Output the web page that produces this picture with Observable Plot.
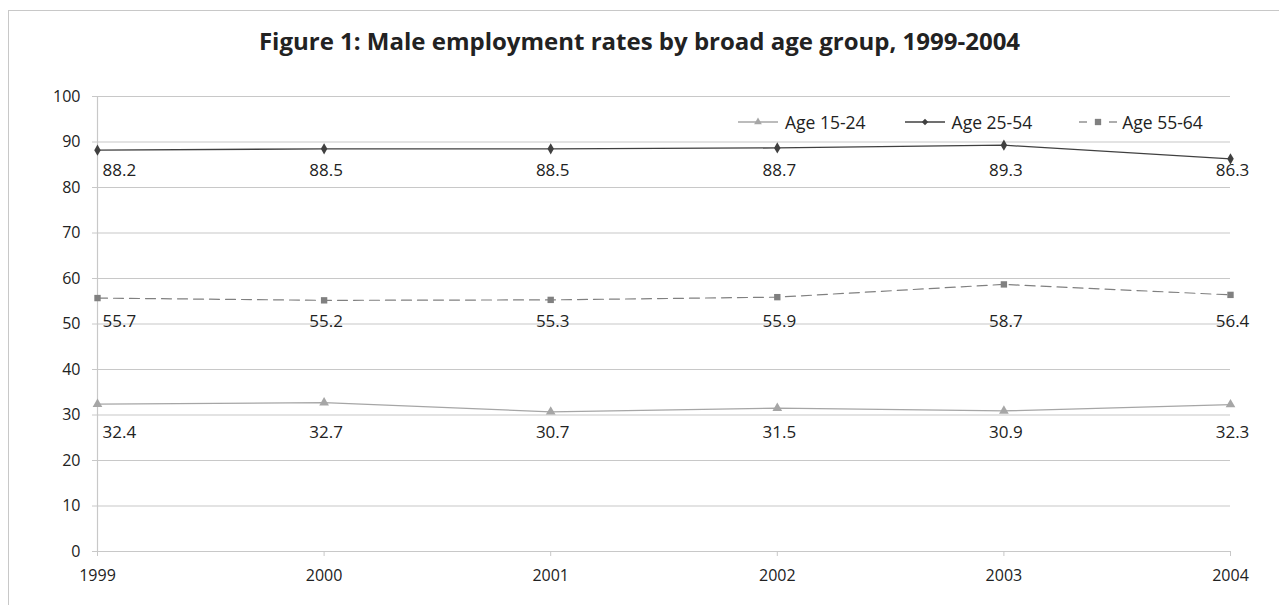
<!DOCTYPE html>
<html><head><meta charset="utf-8">
<script src="https://cdn.jsdelivr.net/npm/d3@7"></script>
<script src="https://cdn.jsdelivr.net/npm/@observablehq/plot@0.6"></script>
<style>
body{margin:0;background:#fff;font-family:"Open Sans",sans-serif;}
#wrap{position:relative;width:1279px;height:605px;overflow:hidden;}
#frame{position:absolute;left:8px;top:10px;width:1400px;height:700px;border:1px solid #c8c8c8;}
#title{position:absolute;left:0;top:0;width:1279px;height:70px;text-align:center;font-weight:700;font-size:24px;line-height:82px;color:#222;}
#chart{position:absolute;left:0;top:70px;}
#legend{position:absolute;top:110px;left:738px;height:24px;font-size:17.5px;color:#222;display:flex;align-items:center;}
.li{display:flex;align-items:center;}
</style></head>
<body><div id="wrap"><div id="frame"></div><div id="title"></div><div id="chart"></div><div id="legend"></div></div>
<script>
const years = [1999, 2000, 2001, 2002, 2003, 2004];
const age1524 = [32.4, 32.7, 30.7, 31.5, 30.9, 32.3];
const age2554 = [88.2, 88.5, 88.5, 88.7, 89.3, 86.3];
const age5564 = [55.7, 55.2, 55.3, 55.9, 58.7, 56.4];
const seriesNames = ["Age 15-24", "Age 25-54", "Age 55-64"];
const yTicks = [0, 10, 20, 30, 40, 50, 60, 70, 80, 90, 100];
const titleText = "Figure 1: Male employment rates by broad age group, 1999-2004";

const styles = {
  "Age 15-24": {color: "#a6a6a6", symbol: "triangle", r: 3.6, dash: null, width: 1.3, labelDy: 21},
  "Age 25-54": {color: "#404040", symbol: "diamond", r: 3.4, dash: null, width: 1.3, labelDy: 12},
  "Age 55-64": {color: "#808080", symbol: "square", r: 3.6, dash: "10,6", width: 1.2, labelDy: 21}
};
const seriesVals = [age1524, age2554, age5564];
const rows = [];
seriesNames.forEach((s, i) => {
  const lo = d3.min(seriesVals[i]);
  years.forEach((y, j) => rows.push({series: s, year: y, value: seriesVals[i][j], labelAt: lo, idx: j}));
});

document.getElementById("title").textContent = titleText;

const marks = [
  Plot.ruleY(yTicks, {stroke: "#c8c8c8", strokeWidth: 1.2}),
  Plot.ruleX([1999], {stroke: "#c8c8c8", strokeWidth: 1.2}),
  Plot.axisY({ticks: yTicks, tickSize: 5, tickPadding: 12, stroke: "#c8c8c8", fill: "#222", fontSize: 16, label: null}),
  Plot.axisX({ticks: years, tickSize: 5, tickPadding: 13, tickFormat: "d", stroke: "#c8c8c8", fill: "#222", fontSize: 16, label: null})
];
seriesNames.forEach(s => {
  const st = styles[s];
  const data = rows.filter(d => d.series === s);
  marks.push(Plot.line(data, {x: "year", y: "value", stroke: st.color, strokeWidth: st.width, strokeDasharray: st.dash}));
  marks.push(Plot.dot(data, {x: "year", y: "value", symbol: st.symbol, r: st.r, fill: st.color, stroke: "none"}));
  const textOpts = {x: "year", y: "labelAt", text: d => d.value.toFixed(1), dy: st.labelDy, fill: "#222", fontSize: 17, fontFamily: "Open Sans"};
  marks.push(Plot.text(data.filter(d => d.idx === 0), {...textOpts, textAnchor: "start", dx: 5}));
  marks.push(Plot.text(data.filter(d => d.idx > 0), {...textOpts, dx: 2}));
});

const plot = Plot.plot({
  width: 1279, height: 535,
  marginTop: 26, marginLeft: 97, marginRight: 49, marginBottom: 54,
  style: {fontFamily: "Open Sans", fontSize: "16px", background: "transparent", overflow: "visible"},
  x: {domain: [1999, 2004]},
  y: {domain: [0, 100]},
  marks
});
document.getElementById("chart").appendChild(plot);

// legend
const leg = document.getElementById("legend");
const gaps = [39, 47, 0];
seriesNames.forEach((s, i) => {
  const st = styles[s];
  const item = document.createElement("div"); item.className = "li"; item.style.marginRight = gaps[i] + "px";
  const sym = {triangle: d3.symbolTriangle, diamond: d3.symbolDiamond2, square: d3.symbolSquare}[st.symbol];
  const path = d3.symbol(sym, st.symbol === "square" ? 40 : 26)();
  const line = st.dash
    ? `<line x1="0" x2="8" y1="6" y2="6" stroke="${st.color}" stroke-width="1.3"/><line x1="30" x2="38" y1="6" y2="6" stroke="${st.color}" stroke-width="1.3"/>`
    : `<line x1="0" x2="40" y1="6" y2="6" stroke="${st.color}" stroke-width="1.3"/>`;
  item.innerHTML = `<svg width="${st.dash ? 38 : 40}" height="12" style="margin-right:${st.dash ? 5 : 7}px">${line}<path d="${path}" transform="translate(${st.dash ? 19 : 20},6)" fill="${st.color}"/></svg><span>${s}</span>`;
  leg.appendChild(item);
});
</script></body></html>
